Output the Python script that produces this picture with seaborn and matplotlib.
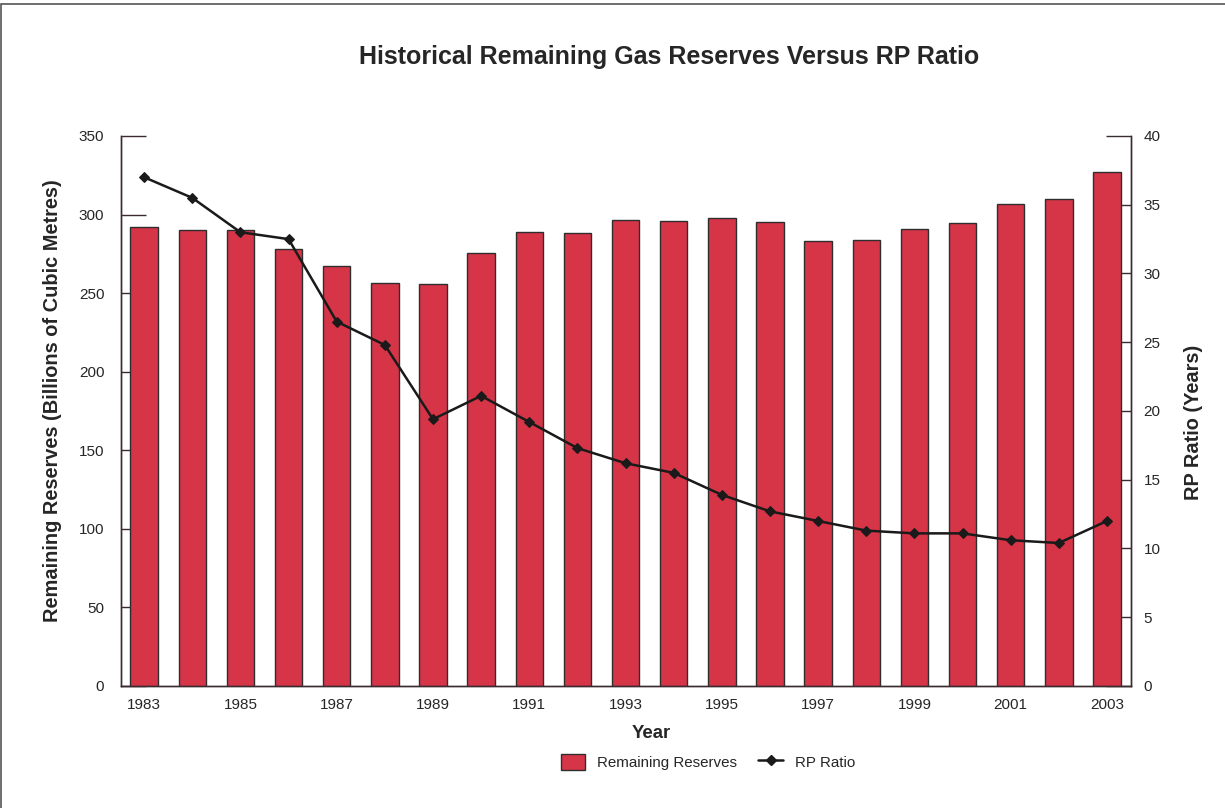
import matplotlib.pyplot as plt
import seaborn as sns
from matplotlib.patches import Patch, Rectangle
from matplotlib.lines import Line2D

# Data
years = list(range(1983, 2004))
reserves = [292, 290, 290, 278, 267, 256.5, 256, 275.5, 289, 288.5, 296.5,
            296, 297.5, 295.5, 283, 284, 291, 294.5, 306.5, 310, 327]
rp_ratio = [37.0, 35.5, 33.0, 32.5, 26.5, 24.8, 19.4, 21.1, 19.2, 17.3, 16.2,
            15.5, 13.9, 12.7, 12.0, 11.3, 11.1, 11.1, 10.6, 10.4, 12.0]
tick_years = years[::2]

sns.set_style("white")
plt.rcParams['font.family'] = ['Liberation Sans', 'DejaVu Sans']

bar_color = '#D63447'
spine_color = '#3b2a2f'

fig = plt.figure(figsize=(12.25, 8.08), dpi=100)
ax = fig.add_axes([0.0988, 0.151, 0.8245, 0.6807])
ax_right = ax.twinx()   # right scale, ticks behind bars
ax_line = ax.twinx()    # carries the RP line above the bars

ax_right.set_zorder(0)
ax.set_zorder(1)
ax_line.set_zorder(2)
ax.patch.set_visible(False)
ax_line.patch.set_visible(False)

sns.barplot(x=years, y=reserves, native_scale=True, width=0.57, color=bar_color,
            saturation=1, edgecolor='#2e2e2e', linewidth=1.0, ax=ax)
sns.lineplot(x=years, y=rp_ratio, marker='D', color='#1a1a1a', linewidth=1.8,
             markersize=5, markeredgecolor='#1a1a1a', ax=ax_line)

ax.set_xlim(1982.52, 2003.5)
ax.set_ylim(0, 350)
ax.set_yticks(range(0, 351, 50))
ax.set_xticks(tick_years)
ax.set_xticklabels([str(y) for y in tick_years])
ax.set_axisbelow(True)
ax.tick_params(axis='y', direction='in', length=18, width=1, color=spine_color,
               pad=12, labelsize=11, left=True)
ax.tick_params(axis='x', length=0, pad=9, labelsize=11)

for a in (ax_right, ax_line):
    a.set_ylim(0, 40)
ax_right.set_yticks(range(0, 41, 5))
ax_right.tick_params(axis='y', direction='in', length=18, width=1, color=spine_color,
                     pad=9, labelsize=11, right=True)
ax_line.set_yticks([])
ax_line.set_ylabel('')

for a in (ax, ax_right, ax_line):
    a.spines['top'].set_visible(False)
    for s in ('left', 'right', 'bottom'):
        a.spines[s].set_color(spine_color)
        a.spines[s].set_linewidth(1.0)
ax_line.spines['left'].set_visible(False)
ax_line.spines['right'].set_visible(False)
ax_line.spines['bottom'].set_visible(False)

ax.set_ylabel('Remaining Reserves (Billions of Cubic Metres)', fontsize=14.4,
              fontweight='bold')
ax.yaxis.set_label_coords(-0.0585, 0.518)
ax_right.set_ylabel('RP Ratio (Years)', fontsize=14.4, fontweight='bold')
ax_right.yaxis.set_label_coords(1.0525, 0.48)
ax.set_xlabel('')
fig.text(651 / 1225, 1 - 733 / 808, 'Year', ha='center', va='center',
         fontsize=13.4, fontweight='bold')

fig.text(669.5 / 1225, 1 - 57 / 808, 'Historical Remaining Gas Reserves Versus RP Ratio',
         ha='center', va='center', fontsize=18, fontweight='bold')

handles = [Patch(facecolor=bar_color, edgecolor='#2e2e2e', linewidth=1.0),
           Line2D([0], [0], color='#1a1a1a', marker='D', markersize=5, linewidth=1.8)]
fig.legend(handles, ['Remaining Reserves', 'RP Ratio'], loc='center',
           bbox_to_anchor=(708 / 1225, 1 - 762 / 808), ncol=2, frameon=False,
           fontsize=10.9, handlelength=1.6, handleheight=1.2, columnspacing=1.4)

# thin gray frame around the page (top and left edges visible)
fig.patches.append(Rectangle((0.001, -0.5), 1.5, 1.495, transform=fig.transFigure,
                             fill=False, edgecolor='#555555', linewidth=1.2))

fig.savefig('out.png', dpi=100)
